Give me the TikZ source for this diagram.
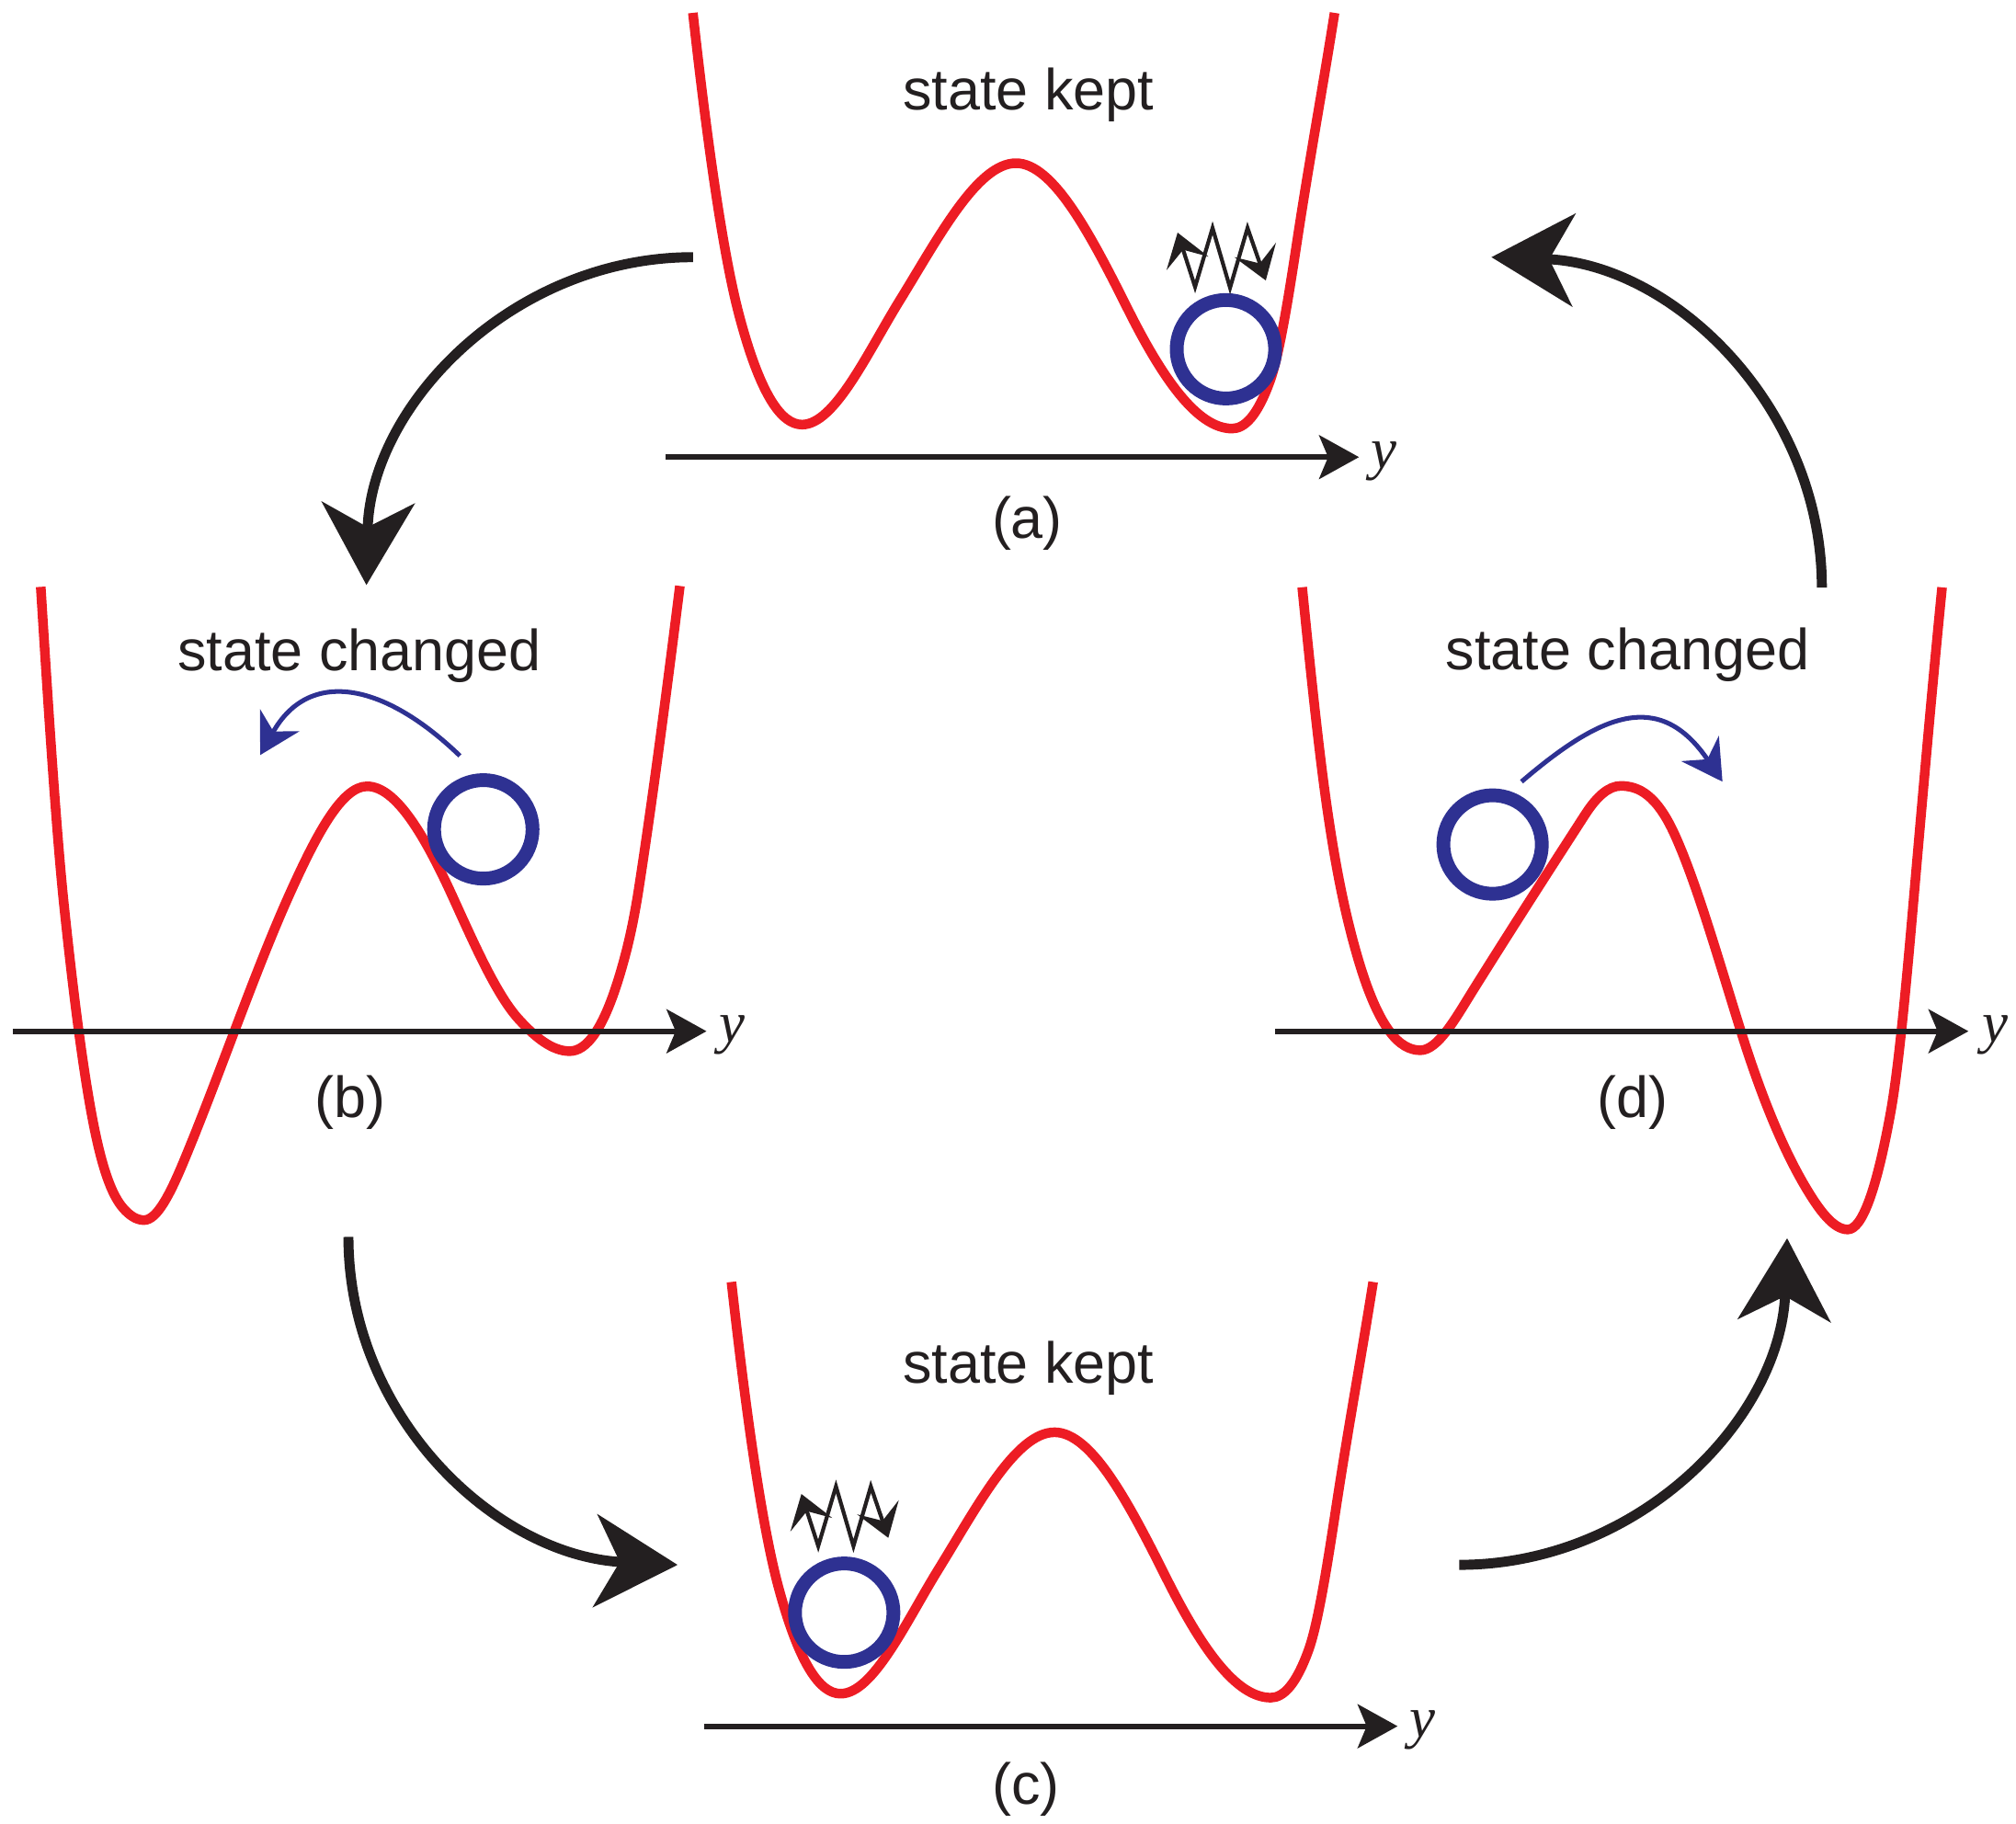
\documentclass[tikz,border=0pt]{standalone}
\usepackage{fontspec}
\setmainfont{Liberation Sans}
\newfontfamily\serifit{Liberation Serif}
\usetikzlibrary{arrows.meta}
\definecolor{potred}{RGB}{237,28,36}
\definecolor{ballblue}{RGB}{46,49,146}
\definecolor{ink}{RGB}{35,31,32}
\tikzset{
  % cubic Hermite piece: from (#1,#2) with slope #3 to (#4,#5) with slope #6
  hs/.style n args={6}{insert path={
    .. controls ({#1+(#4-#1)/3},{#2+(#3)*(#4-#1)/3}) and ({#4-(#4-#1)/3},{#5-(#6)*(#4-#1)/3}) .. (#4,#5)}},
  potential/.style={draw=potred, line width=0.75mm, line join=round, line cap=butt},
  ball/.style={draw=ballblue, line width=1.07mm, circle, minimum size=7.66mm, inner sep=0pt},
  axisline/.style={draw=ink, line width=0.42mm, -{Stealth[length=3.1mm, width=3.4mm, inset=0.7mm]}},
  bigarrow/.style={draw=ink, line width=0.78mm, -{Stealth[length=6.4mm, width=7.2mm, inset=1.9mm]}},
  hoparrow/.style={draw=ballblue, line width=0.36mm, -{Stealth[length=3.1mm, width=3.5mm, inset=1mm]}},
  noise/.style={draw=ink, line width=0.3mm, line join=miter,
    {Stealth[length=2.5mm, width=3.4mm, inset=1.1mm]}-{Stealth[length=2.5mm, width=3.4mm, inset=1.1mm]}},
  lbl/.style={font=\fontsize{12.8}{15}\selectfont, text=ink, inner sep=0pt, anchor=base},
  ylbl/.style={font=\fontsize{12.8}{15}\selectfont\serifit\itshape, text=ink, inner sep=0pt, anchor=base west},
  wellA/.pic={\draw[potential] (538.9,10)
    [hs={538.9}{10}{9}{575.3}{246.7}{3.73}]
    [hs={575.3}{246.7}{3.73}{623.8}{330.2}{0}]
    [hs={623.8}{330.2}{0}{700}{233.3}{-1.62}]
    [hs={700}{233.3}{-1.62}{790.2}{126.9}{0}]
    [hs={790.2}{126.9}{0}{877}{240}{2.0}]
    [hs={877}{240}{2.0}{958.3}{333.3}{0}]
    [hs={958.3}{333.3}{0}{987.7}{296.5}{-2.75}]
    [hs={987.7}{296.5}{-2.75}{1008.5}{189.8}{-6.6}]
    [hs={1008.5}{189.8}{-6.6}{1038}{10}{-6.3}];}
}
\begin{document}
\begin{tikzpicture}[x=0.1mm, y=-0.1mm]
\useasboundingbox (0,0) rectangle (1568,1418);

% ---------- panel (a) ----------
\pic at (0,0) {wellA};
\coordinate (axA0) at (518,355.5);
\coordinate (axA1) at (1057,355.5);
\draw[axisline] (axA0) -- (axA1);
\node[ylbl] (yA) at (1066,364) {y};
\node[lbl] (labA) at (799,418.5) {(a)};
\node[lbl] (titA) at (800,85.4) {state kept};
\node[ball] (ballA) at (953.5,271.6) {};
\draw[noise] (915.9,180.9) -- (929.5,223.1) -- (943.1,177.3) -- (956.7,223.8) -- (970.3,177.3) -- (984.5,218.1);

% ---------- panel (b) ----------
\draw[potential] (31.7,456.4)
  [hs={31.7}{456.4}{16}{50}{706}{9.5}]
  [hs={50}{706}{9.5}{73.9}{880}{4.8}]
  [hs={73.9}{880}{4.8}{95.3}{939}{1.2}]
  [hs={95.3}{939}{1.2}{112}{948.9}{0}]
  [hs={112}{948.9}{0}{143}{903}{-2.4}]
  [hs={143}{903}{-2.4}{226.4}{692.8}{-2.2}]
  [hs={226.4}{692.8}{-2.2}{285.5}{611.5}{0}]
  [hs={285.5}{611.5}{0}{353}{699.4}{2.2}]
  [hs={353}{699.4}{2.2}{403.4}{792.6}{1.1}]
  [hs={403.4}{792.6}{1.1}{443}{817.5}{0}]
  [hs={443}{817.5}{0}{482.7}{755.9}{-3.4}]
  [hs={482.7}{755.9}{-3.4}{497.1}{689.4}{-6.5}]
  [hs={497.1}{689.4}{-6.5}{528.8}{455.7}{-8}];
\coordinate (axB0) at (10,802);
\coordinate (axB1) at (549.5,802);
\draw[axisline] (axB0) -- (axB1);
\node[ylbl] (yB) at (559,810.5) {y};
\node[lbl] (labB) at (272.6,869) {(b)};
\node[lbl] (titB) at (279.7,521.3) {state changed};
\node[ball] (ballB) at (375.9,645) {};
\coordinate (hopB0) at (357.7,587.8);
\coordinate (hopB1) at (202.4,587.2);
\draw[hoparrow] (hopB0) .. controls (297.7,530) and (240,520) .. (hopB1);

% ---------- panel (c) ----------
\pic at (30,987) {wellA};
\coordinate (axC0) at (548,1342.5);
\coordinate (axC1) at (1087,1342.5);
\draw[axisline] (axC0) -- (axC1);
\node[ylbl] (yC) at (1096,1351) {y};
\node[lbl] (labC) at (798,1403.5) {(c)};
\node[lbl] (titC) at (800,1076) {state kept};
\node[ball] (ballC) at (656.6,1254.2) {};
\draw[noise] (623.3,1161.9) -- (636.4,1202.4) -- (650.2,1156) -- (663.8,1202.4) -- (677.3,1156) -- (690.9,1196);

% ---------- panel (d) ----------
\draw[potential] (1012.8,456.7)
  [hs={1012.8}{456.7}{10}{1031.9}{626.5}{7}]
  [hs={1031.9}{626.5}{7}{1056.2}{745.4}{3.4}]
  [hs={1056.2}{745.4}{3.4}{1104.7}{816.8}{0}]
  [hs={1104.7}{816.8}{0}{1146.3}{769.2}{-1.6}]
  [hs={1146.3}{769.2}{-1.6}{1233}{633.3}{-1.55}]
  [hs={1233}{633.3}{-1.55}{1260.6}{611.2}{0}]
  [hs={1260.6}{611.2}{0}{1302.5}{649}{2.2}]
  [hs={1302.5}{649}{2.2}{1353.7}{801}{3.2}]
  [hs={1353.7}{801}{3.2}{1403.8}{922.4}{1.7}]
  [hs={1403.8}{922.4}{1.7}{1437.1}{956.2}{0}]
  [hs={1437.1}{956.2}{0}{1470.5}{865}{-5.5}]
  [hs={1470.5}{865}{-5.5}{1487.2}{713.2}{-11.5}]
  [hs={1487.2}{713.2}{-11.5}{1510.5}{456.8}{-10}];
\coordinate (axD0) at (992,802);
\coordinate (axD1) at (1531,802);
\draw[axisline] (axD0) -- (axD1);
\node[ylbl] (yD) at (1541,810.5) {y};
\node[lbl] (labD) at (1270,869) {(d)};
\node[lbl] (titD) at (1265.9,521.2) {state changed};
\node[ball] (ballD) at (1160.9,656.8) {};
\coordinate (hopD0) at (1183.4,607.9);
\coordinate (hopD1) at (1339.7,607.9);
\draw[hoparrow] (hopD0) .. controls (1244.2,555.9) and (1290.4,534.9) .. (hopD1);

% ---------- cycle arrows ----------
\coordinate (c1s) at (539,200);
\coordinate (c1e) at (285,455);
\coordinate (c2s) at (271,962);
\coordinate (c2e) at (527,1217);
\coordinate (c3s) at (1135,1217);
\coordinate (c3e) at (1390,963);
\coordinate (c4s) at (1417,457);
\coordinate (c4e) at (1160,200);
\draw[bigarrow] (c1s) .. controls (399,200) and (288,315) .. (c1e);
\draw[bigarrow] (c2s) .. controls (271,1102) and (386,1210) .. (c2e);
\draw[bigarrow] (c3s) .. controls (1275,1217) and (1385,1103) .. (c3e);
\draw[bigarrow] (c4s) .. controls (1417,316) and (1301,205) .. (c4e);
\end{tikzpicture}
\end{document}
